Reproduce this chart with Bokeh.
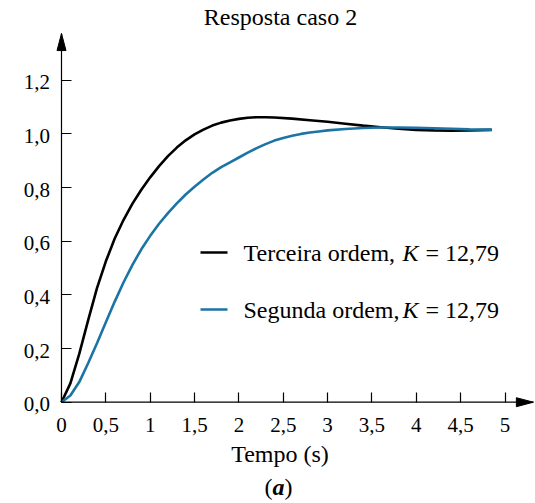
from bokeh.plotting import figure
from bokeh.models import (Range1d, FixedTicker, Arrow, Label,
                          CustomJSTickFormatter)
from bokeh.embed import file_html
from bokeh.resources import INLINE

# ---------------- data ----------------
t_third = [0, 0.1, 0.2, 0.3, 0.4, 0.5, 0.6, 0.7, 0.8, 0.9, 1.0, 1.1, 1.2, 1.3,
           1.4, 1.5, 1.6, 1.7, 1.8, 1.9, 2.0, 2.1, 2.2, 2.3, 2.4, 2.6, 2.8,
           3.0, 3.2, 3.4, 3.6, 3.8, 4.0, 4.2, 4.4, 4.6, 4.85]
y_third = [0, 0.07, 0.18, 0.305, 0.425, 0.525, 0.61, 0.68, 0.74, 0.792, 0.838,
           0.88, 0.917, 0.949, 0.976, 0.998, 1.016, 1.031, 1.042, 1.05, 1.056,
           1.06, 1.062, 1.062, 1.061, 1.057, 1.051, 1.045, 1.038, 1.031,
           1.025, 1.019, 1.015, 1.013, 1.012, 1.013, 1.015]

t_second = [0, 0.1, 0.2, 0.3, 0.4, 0.5, 0.6, 0.7, 0.8, 0.9, 1.0, 1.1, 1.2, 1.3,
            1.4, 1.5, 1.6, 1.7, 1.8, 1.9, 2.0, 2.1, 2.2, 2.3, 2.4, 2.5, 2.6,
            2.7, 2.8, 2.9, 3.0, 3.2, 3.4, 3.6, 3.8, 4.0, 4.2, 4.4, 4.6, 4.85]
y_second = [0, 0.025, 0.075, 0.145, 0.22, 0.298, 0.375, 0.447, 0.512, 0.57,
            0.62, 0.665, 0.705, 0.741, 0.774, 0.803, 0.83, 0.855, 0.876,
            0.894, 0.912, 0.93, 0.947, 0.962, 0.975, 0.985, 0.993, 1.0, 1.005,
            1.009, 1.013, 1.018, 1.022, 1.024, 1.024, 1.023, 1.021, 1.019,
            1.017, 1.016]

x_ticks = [0, 0.5, 1, 1.5, 2, 2.5, 3, 3.5, 4, 4.5, 5]
x_tick_labels = ["0", "0,5", "1", "1,5", "2", "2,5", "3", "3,5", "4", "4,5", "5"]
y_ticks = [0, 0.2, 0.4, 0.6, 0.8, 1.0, 1.2]
y_tick_labels = ["0,0", "0,2", "0,4", "0,6", "0,8", "1,0", "1,2"]

title_text = "Resposta caso 2"
x_label_text = "Tempo (s)"
series_names = ["Terceira ordem,", "Segunda ordem,"]
gain_symbol = "K"
gain_value = "= 12,79"
panel_letter = "a"

# ---------------- style / layout ----------------
FONT = "'Liberation Serif', 'Times New Roman', Times, serif"
BLUE = "#1b75a4"
W, H = 535, 503
X0_PX, PX_PER_X = 61.0, 88.7      # pixel of t=0, pixels per second
Y0_PX, PX_PER_Y = 401.7, 268.3    # pixel of y=0, pixels per unit
X_TIP, Y_TIP = 5.32, 1.374        # axis arrow tips (data units)
ARROW_LEN, ARROW_HALF = 17.0, 4.5  # arrow head size in pixels
TICK_FS, TEXT_FS = "21px", "24px"

x_start = -X0_PX / PX_PER_X
x_end = (W - X0_PX) / PX_PER_X
y_end = Y0_PX / PX_PER_Y
y_start = -(H - Y0_PX) / PX_PER_Y

p = figure(width=W, height=H, output_backend="svg", toolbar_location=None,
           x_range=Range1d(x_start, x_end), y_range=Range1d(y_start, y_end),
           min_border=0)
p.outline_line_color = None
p.xgrid.visible = False
p.ygrid.visible = False
p.background_fill_color = "white"
p.border_fill_color = "white"


def px_x(px):
    return (px - X0_PX) / PX_PER_X


def px_y(py):
    return (Y0_PX - py) / PX_PER_Y


def add_text(x, y, text, align="center", style="normal", size=TEXT_FS):
    p.add_layout(Label(x=x, y=y, text=text, text_font=FONT,
                       text_font_style=style, text_font_size=size,
                       text_baseline="middle", text_align=align,
                       text_color="black"))


# axes: ticks drawn by bokeh, tick texts drawn as serif labels
for ax, tv in ((p.xaxis[0], x_ticks), (p.yaxis[0], y_ticks)):
    ax.fixed_location = 0
    ax.ticker = FixedTicker(ticks=tv)
    ax.formatter = CustomJSTickFormatter(code='return ""')
    ax.axis_line_color = None
    ax.major_tick_line_color = "black"
    ax.major_tick_line_width = 1.2
    ax.major_tick_in = 10
    ax.major_tick_out = 0
    ax.minor_tick_line_color = None
    ax.major_label_standoff = 0

for tv, tl in zip(x_ticks, x_tick_labels):
    add_text(tv, px_y(424.5), tl, size=TICK_FS)
for tv, tl in zip(y_ticks, y_tick_labels):
    add_text(px_x(49.5), tv - 2 / PX_PER_Y, tl, align="right", size=TICK_FS)

# axis lines with arrow heads
p.add_layout(Arrow(end=None, x_start=0, y_start=0, x_end=0, y_end=Y_TIP,
                   line_color="black", line_width=1.2))
p.add_layout(Arrow(end=None, x_start=0, y_start=0, x_end=X_TIP, y_end=0,
                   line_color="black", line_width=1.2))
hx, hy = ARROW_HALF / PX_PER_X, ARROW_HALF / PX_PER_Y
lx, ly = ARROW_LEN / PX_PER_X, ARROW_LEN / PX_PER_Y
p.patches(xs=[[0, -hx, hx], [X_TIP, X_TIP - lx, X_TIP - lx]],
          ys=[[Y_TIP, Y_TIP - ly, Y_TIP - ly], [0, hy, -hy]],
          fill_color="black", line_color="black", line_width=1)

p.line(t_third, y_third, line_color="black", line_width=2.6)
p.line(t_second, y_second, line_color=BLUE, line_width=2.6)

# legend (swatches + serif texts with italic K)
rows_py = [252, 309]
p.segment(x0=[px_x(200)] * 2, x1=[px_x(227)] * 2,
          y0=[px_y(r) for r in rows_py], y1=[px_y(r) for r in rows_py],
          line_color=["black", BLUE], line_width=2.6)
for name, row_py in zip(series_names, rows_py):
    add_text(px_x(243), px_y(row_py), name, align="left")
    add_text(px_x(402), px_y(row_py), gain_symbol, align="left", style="italic")
    add_text(px_x(425), px_y(row_py), gain_value, align="left")

add_text(px_x(280), px_y(16), title_text)
add_text(px_x(279.5), px_y(453), x_label_text)
add_text(px_x(272), px_y(486), "(", align="right")
add_text(px_x(278), px_y(486), panel_letter, style="bold italic")
add_text(px_x(284), px_y(486), ")", align="left")

open("out.html", "w").write(file_html(p, INLINE))
